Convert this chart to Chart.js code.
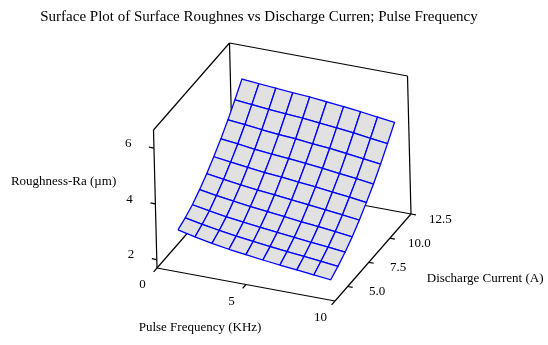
<!DOCTYPE html>
<html>
<head>
<meta charset="utf-8">
<script src="https://cdn.jsdelivr.net/npm/chart.js@4.4.1/dist/chart.umd.min.js"></script>
<style>
  html, body { margin: 0; padding: 0; background: #fff; }
</style>
</head>
<body>
<canvas id="surface" width="548" height="345"></canvas>
<script>
// Grade da superfície ajustada
const pulseFrequency = [0.65, 1.6, 2.55, 3.5, 4.45, 5.4, 6.35, 7.3, 8.25, 9.2];
const dischargeCurrent = [4.7, 5.57, 6.43, 7.3, 8.17, 9.03, 9.9, 10.77, 11.63, 12.5];

// Ra (µm): uma linha por corrente, uma coluna por frequência
const roughness = [
  [2.73, 2.59, 2.47, 2.37, 2.29, 2.21, 2.14, 2.08, 2.01, 1.95],
  [2.86, 2.74, 2.63, 2.54, 2.46, 2.39, 2.32, 2.26, 2.20, 2.13],
  [3.03, 2.92, 2.82, 2.74, 2.67, 2.60, 2.53, 2.47, 2.41, 2.34],
  [3.27, 3.17, 3.08, 3.00, 2.93, 2.86, 2.79, 2.73, 2.66, 2.59],
  [3.54, 3.45, 3.36, 3.29, 3.23, 3.16, 3.10, 3.03, 2.96, 2.89],
  [3.85, 3.77, 3.69, 3.62, 3.57, 3.50, 3.44, 3.37, 3.30, 3.22],
  [4.19, 4.12, 4.04, 3.98, 3.93, 3.87, 3.81, 3.73, 3.66, 3.58],
  [4.57, 4.51, 4.44, 4.38, 4.34, 4.27, 4.22, 4.15, 4.07, 3.99],
  [4.99, 4.93, 4.87, 4.82, 4.78, 4.72, 4.66, 4.59, 4.51, 4.43],
  [5.43, 5.38, 5.33, 5.28, 5.24, 5.18, 5.12, 5.05, 4.97, 4.89]
];

// Marcas dos eixos
const freqTicks = [0, 5, 10];
const currentTicks = [5.0, 7.5, 10.0, 12.5];
const raTicks = [2, 4, 6];

const FREQ_RANGE = [0, 10];
const CURR_RANGE = [3.5, 12.5];
const RA_RANGE = [1.7, 6.65];

// Projeção oblíqua da caixa 3D para o plano da tela
const origin = { x: 157, y: 268 };
const axisFreq = { x: 178, y: 33 };
const axisCurr = { x: 76, y: -87 };
const axisRa = { x: -3.5, y: -138 };

const project = (f, c, r) => {
  const u = (f - FREQ_RANGE[0]) / (FREQ_RANGE[1] - FREQ_RANGE[0]);
  const v = (c - CURR_RANGE[0]) / (CURR_RANGE[1] - CURR_RANGE[0]);
  const w = (r - RA_RANGE[0]) / (RA_RANGE[1] - RA_RANGE[0]);
  return {
    x: origin.x + u * axisFreq.x + v * axisCurr.x + w * axisRa.x,
    y: origin.y + u * axisFreq.y + v * axisCurr.y + w * axisRa.y
  };
};

const [f0, f1] = FREQ_RANGE;
const [c0, c1] = CURR_RANGE;
const [r0, r1] = RA_RANGE;

const datasets = [];

// Células da superfície: as mais distantes são desenhadas primeiro
for (let i = 0; i < dischargeCurrent.length - 1; i++) {
  for (let j = 0; j < pulseFrequency.length - 1; j++) {
    const corners = [[i, j], [i, j + 1], [i + 1, j + 1], [i + 1, j], [i, j]];
    datasets.push({
      data: corners.map(([a, b]) => project(pulseFrequency[b], dischargeCurrent[a], roughness[a][b])),
      borderColor: '#0000ff',
      borderWidth: 1.3,
      backgroundColor: '#e1e1e1',
      fill: 'shape',
      pointRadius: 0,
      tension: 0,
      order: 100 + i - j
    });
  }
}

// Arestas da caixa e marcas de escala
const segments = [
  [[f0, c0, r0], [f0, c0, r1]],
  [[f0, c0, r1], [f0, c1, r1]],
  [[f0, c1, r1], [f0, c1, r0]],
  [[f0, c1, r1], [f1, c1, r1]],
  [[f1, c1, r1], [f1, c1, r0]],
  [[f0, c1, r0], [f1, c1, r0]],
  [[f0, c0, r0], [f0, c1, r0]],
  [[f0, c0, r0], [f1, c0, r0]],
  [[f1, c0, r0], [f1, c1, r0]]
];
freqTicks.forEach(t => segments.push([[t, c0, r0], [t, c0 - 0.4, r0]]));
currentTicks.forEach(t => segments.push([[f1, t, r0], [f1 + 0.28, t, r0]]));
raTicks.forEach(t => segments.push([[f0, c0, t], [f0 - 0.28, c0, t]]));

segments.forEach(seg => {
  datasets.push({
    data: seg.map(p => project(...p)),
    borderColor: '#000000',
    borderWidth: 1.2,
    fill: false,
    pointRadius: 0,
    tension: 0,
    order: 1000
  });
});

const serif = "'Liberation Serif', 'Times New Roman', serif";

// Textos: título, rótulos das marcas e nomes dos eixos
const axisLabels = {
  id: 'axisLabels',
  afterDatasetsDraw(chart) {
    const { ctx, scales: { x, y } } = chart;
    const put = (text, p, size) => {
      ctx.font = size + 'px ' + serif;
      ctx.fillText(text, x.getPixelForValue(p.x), y.getPixelForValue(p.y));
    };
    ctx.save();
    ctx.fillStyle = '#000';
    ctx.textAlign = 'center';
    ctx.textBaseline = 'middle';

    put('Surface Plot of Surface Roughnes vs Discharge Curren; Pulse Frequency', { x: 259, y: 17 }, 15);

    raTicks.forEach(t => put(String(t), project(f0 - 1.45, c0, t), 13));
    freqTicks.forEach(t => put(String(t), project(t, c0 - 1.72, r0), 13));
    currentTicks.forEach(t => put(t.toFixed(1), project(f1 + 1.65, t, r0), 13));

    put('Roughness-Ra (µm)', project(f0 - 5.15, c0, (r0 + r1) / 2), 13);
    put('Pulse Frequency (KHz)', project(4.6, c0 - 4.6, r0), 13);
    put('Discharge Current (A)', project(f1 + 6.3, (c0 + c1) / 2, r0), 13);
    ctx.restore();
  }
};

new Chart(document.getElementById('surface'), {
  type: 'line',
  data: { datasets },
  options: {
    responsive: false,
    animation: false,
    devicePixelRatio: 1,
    events: [],
    layout: { padding: 0 },
    plugins: {
      legend: { display: false },
      tooltip: { enabled: false },
      title: { display: false }
    },
    scales: {
      x: { type: 'linear', display: false, min: 0, max: 548 },
      y: { type: 'linear', display: false, min: 0, max: 345, reverse: true }
    }
  },
  plugins: [axisLabels]
});
</script>
</body>
</html>
